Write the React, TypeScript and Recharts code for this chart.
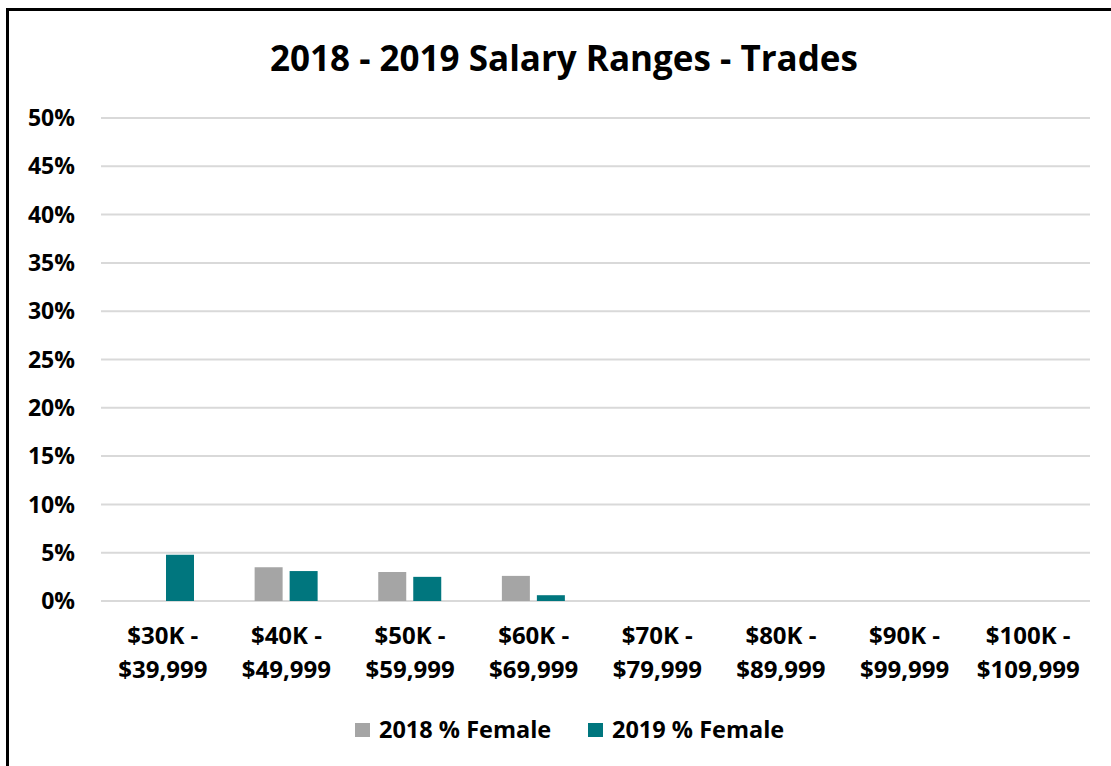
import { BarChart, Bar, XAxis, YAxis, CartesianGrid } from "recharts";

const categories = [
  "$30K - $39,999",
  "$40K - $49,999",
  "$50K - $59,999",
  "$60K - $69,999",
  "$70K - $79,999",
  "$80K - $89,999",
  "$90K - $99,999",
  "$100K - $109,999",
];
const female2018 = [0, 3.5, 3.0, 2.6, 0, 0, 0, 0];
const female2019 = [4.8, 3.1, 2.5, 0.6, 0, 0, 0, 0];
const yTicks = [0, 5, 10, 15, 20, 25, 30, 35, 40, 45, 50];
const seriesNames = ["2018 % Female", "2019 % Female"];
const seriesColors = ["#A5A5A5", "#00767E"];

const data = categories.map((c, i) => ({ cat: c, y2018: female2018[i], y2019: female2019[i] }));

const FONT = "'Open Sans', Lato, sans-serif";

// category labels wrap after the dash like excel does
const CatTick = (props: any) => {
  const { x, y, payload } = props;
  const parts = String(payload.value).split(" - ");
  return (
    <text x={x} y={y} textAnchor="middle" fill="#000" fontFamily={FONT} fontWeight={700} fontSize={24}>
      <tspan x={x} y={y + 43}>{parts[0] + " -"}</tspan>
      <tspan x={x} y={y + 77}>{parts[1]}</tspan>
    </text>
  );
};

export default function App() {
  return (
    <div style={{ position: "fixed", left: 0, top: 0, width: 1111, height: 766, overflow: "hidden", background: "#fff" }}>
      <div
        style={{
          position: "absolute", left: 6, top: 8, width: 1200, height: 900,
          border: "3px solid #000", boxSizing: "border-box",
        }}
      />
      <BarChart
        width={1111}
        height={766}
        data={data}
        margin={{ top: 118, right: 21, left: 0, bottom: 0 }}
        barSize={28}
        barGap={7}
      >
        <CartesianGrid vertical={false} stroke="#D9D9D9" strokeWidth={2} />
        <XAxis
          dataKey="cat"
          height={165}
          axisLine={false}
          tickLine={false}
          tickSize={0}
          tickMargin={0}
          interval={0}
          tick={<CatTick />}
        />
        <YAxis
          width={101}
          domain={[0, 50]}
          ticks={yTicks}
          axisLine={false}
          tickLine={false}
          tickSize={0}
          tickMargin={26}
          tickFormatter={(v) => `${v}%`}
          tick={{ fill: "#000", fontFamily: FONT, fontWeight: 700, fontSize: 23 }}
        />
        <Bar dataKey="y2018" name={seriesNames[0]} fill={seriesColors[0]} isAnimationActive={false} />
        <Bar dataKey="y2019" name={seriesNames[1]} fill={seriesColors[1]} isAnimationActive={false} />
      </BarChart>
      <svg width={1111} height={766} style={{ position: "absolute", left: 0, top: 0, pointerEvents: "none" }}>
        <text x={564} y={71} textAnchor="middle" fontFamily={FONT} fontWeight={700} fontSize={35} fill="#000">
          2018 - 2019 Salary Ranges - Trades
        </text>
        {seriesNames.map((n, i) => {
          const x0 = i === 0 ? 355 : 588;
          return (
            <g key={n}>
              <rect x={x0} y={723} width={15} height={14} fill={seriesColors[i]} />
              <text x={x0 + 24} y={738} fontFamily={FONT} fontWeight={700} fontSize={23.5} fill="#000">
                {n}
              </text>
            </g>
          );
        })}
      </svg>
    </div>
  );
}
